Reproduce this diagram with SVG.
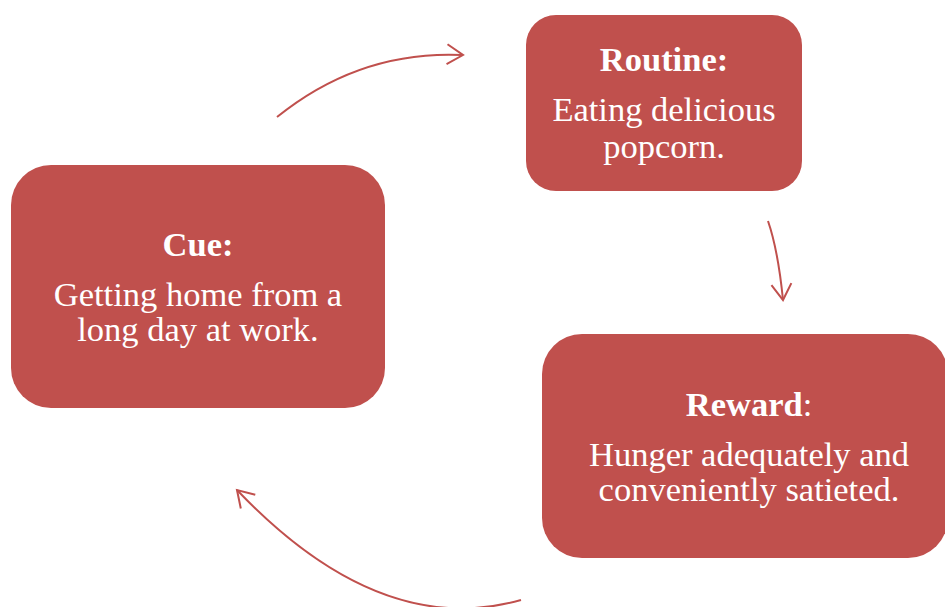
<svg xmlns="http://www.w3.org/2000/svg" width="945" height="607" viewBox="0 0 945 607">
<style>
.box{fill:#C0504D;}
.t{font-family:"Liberation Serif","Times New Roman",serif;fill:#fff;text-anchor:middle;font-size:34.5px;}
.b{font-weight:bold;}
.c{fill:none;stroke:#C0504D;stroke-width:2;}
</style>
<defs>
<marker id="ah" markerUnits="userSpaceOnUse" markerWidth="24" markerHeight="24" viewBox="0 0 24 24" refX="18" refY="12" orient="auto">
<path d="M2,2 L18,12 L2,22" fill="none" stroke="#C0504D" stroke-width="2"/>
</marker>
</defs>
<g id="connectors">
<path class="c" d="M277,117 Q360,50 463,55" marker-end="url(#ah)"/>
<path class="c" d="M768,221 Q778,250 783,300" marker-end="url(#ah)"/>
<path class="c" d="M521,600 Q380,640 237,490" marker-end="url(#ah)"/>
</g>
<g id="routine">
<rect class="box" x="526" y="15" width="276" height="176" rx="30"/>
<text class="t b" x="664" y="71">Routine:</text>
<text class="t" x="664" y="121">Eating delicious</text>
<text class="t" x="664" y="158">popcorn.</text>
</g>
<g id="cue">
<rect class="box" x="11" y="165" width="374" height="243" rx="40"/>
<text class="t b" x="198" y="256">Cue:</text>
<text class="t" x="198" y="306">Getting home from a</text>
<text class="t" x="198" y="341">long day at work.</text>
</g>
<g id="reward">
<rect class="box" x="542" y="334" width="406" height="224" rx="40"/>
<text class="t" x="749" y="416"><tspan class="b">Reward</tspan>:</text>
<text class="t" x="749" y="466">Hunger adequately and</text>
<text class="t" x="749" y="501">conveniently satieted.</text>
</g>
</svg>
